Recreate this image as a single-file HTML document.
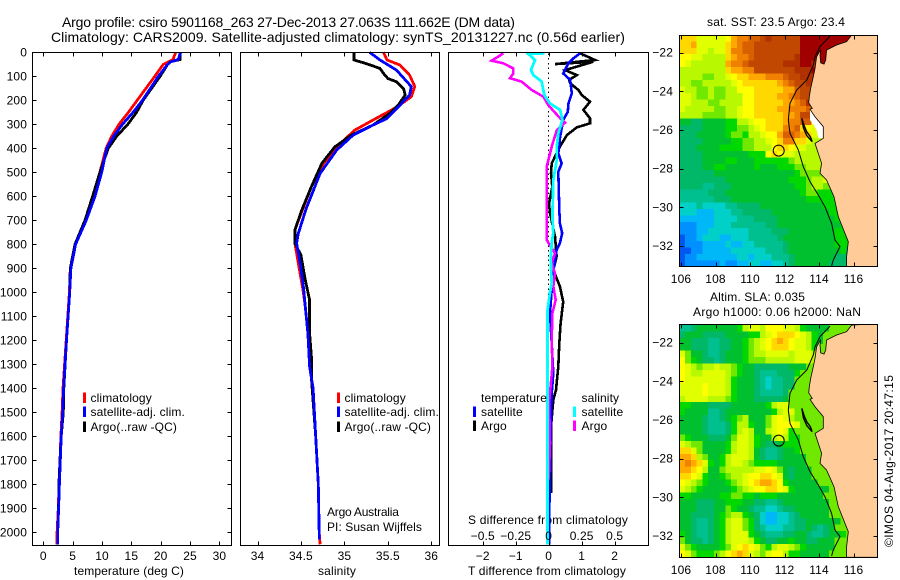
<!DOCTYPE html>
<html>
<head>
<meta charset="utf-8">
<title>Argo profile</title>
<style>
html,body{margin:0;padding:0;background:#fff;}
svg{display:block;}
text{font-family:"Liberation Sans",sans-serif;font-size:12px;fill:#000;letter-spacing:.12px;}
.t14{font-size:14px;}
</style>
</head>
<body>
<svg id="fig" xmlns="http://www.w3.org/2000/svg" width="900" height="580" viewBox="0 0 900 580">
<rect x="0" y="0" width="900" height="580" fill="#fff"/>
<text class="t14" x="62" y="27" textLength="453">Argo profile: csiro 5901168_263 27-Dec-2013 27.063S 111.662E (DM data)</text>
<text class="t14" x="51" y="42" textLength="574">Climatology: CARS2009. Satellite-adjusted climatology: synTS_20131227.nc (0.56d earlier)</text>
<text x="74" y="575" textLength="110">temperature (deg C)</text>
<text x="318" y="575" textLength="38">salinity</text>
<text x="468" y="575" textLength="158">T difference from climatology</text>
<text x="468" y="524" textLength="160">S difference from climatology</text>
<text x="327" y="516" textLength="72">Argo Australia</text>
<text x="327" y="531" textLength="95">PI: Susan Wijffels</text>
<text x="707" y="26" textLength="138">sat. SST: 23.5 Argo: 23.4</text>
<text x="710" y="301" textLength="95">Altim. SLA: 0.035</text>
<text x="693" y="316" textLength="168">Argo h1000: 0.06 h2000: NaN</text>
<text transform="translate(893,547) rotate(-90)" x="0" y="0" textLength="172">©IMOS 04-Aug-2017 20:47:15</text>
</svg>
<script>
// ---------- temperature profile data ----------
const tempDepth = [0,30,40,50,100,200,250,300,350,400,500,600,700,800,900,1000,1200,1400,1500,1600,1700,1800,1900,2000,2050];
const tempClim = [22.55,22.1,21.3,20.45,19.0,16.0,14.5,12.9,11.65,10.7,9.65,8.7,7.2,5.4,4.6,4.45,3.9,3.35,3.2,3.0,2.85,2.7,2.55,2.35,2.3];
const tempSat = [23.35,23.0,21.7,21.2,19.6,16.9,15.3,13.5,12.0,10.8,9.95,8.8,7.3,5.5,4.7,4.5,3.95,3.45,3.3,3.05,2.9,2.75,2.6,2.45,2.45];
const tempArgo = [23.35,23.3,21.6,21.2,19.9,17.0,15.9,14.4,12.5,11.05,9.65,8.4,7.1,5.4,4.6,4.5,3.95,3.5,3.4,3.05,2.85,2.65,2.6,2.45,2.45];
// ---------- salinity profile data ----------
const salClimDepth = [0,32,53,95,143,185,229,282,324,394,463,560,644,740,796,879,983,1060,1171,1310,1400,1600,1800,2000,2050];
const salClim = [35.45,35.49,35.64,35.75,35.81,35.77,35.6,35.33,35.12,34.91,34.76,34.62,34.53,34.43,34.43,34.47,34.52,34.55,34.58,34.6,34.64,34.67,34.7,34.71,34.72];
const salSatDepth = [0,32,74,143,178,220,276,303,345,408,505,651,755,796,879,983,1060,1171,1310,1400,1600,1800,2000,2030];
const salSat = [35.29,35.41,35.6,35.77,35.75,35.64,35.49,35.33,35.1,34.91,34.72,34.56,34.47,34.45,34.49,34.53,34.55,34.58,34.6,34.64,34.67,34.7,34.71,34.71];
const salArgoDepth = [0,32,46,67,88,109,123,151,178,220,255,303,345,394,463,560,657,740,796,845,949,1032,1171,1268,1358,1600,1800,2000];
const salArgo = [35.11,35.11,35.24,35.41,35.45,35.5,35.6,35.68,35.7,35.62,35.52,35.33,35.08,34.89,34.74,34.62,34.51,34.43,34.43,34.5,34.55,34.6,34.6,34.62,34.62,34.67,34.7,34.71];
// ---------- difference panel data ----------
const dTempArgoDepth = [4,32,49,39,74,95,115,129,157,178,206,240,275,296,313,345,393,463,504,560,630,670,768,851,907,976,1039,1129,1212,1309,1407,1448,1559,1837];
const dTempArgo = [.95,1.4,.19,1.35,.5,.85,.62,.65,.9,1.0,1.25,1.05,1.25,1.25,.85,.55,.34,.09,.07,.11,.01,.04,.19,.24,.14,.34,.44,.36,.32,.29,.22,.14,.07,.07];
const dTempSatDepth = [4,25,46,88,115,171,213,248,282,358,421,463,498,657,712,754,795,823,914,990,1087,1212,1337,1420,1545,1643,1990,2050];
const dTempSat = [.95,.75,.6,.44,.65,.7,.6,.58,.44,.34,.29,.39,.29,.32,.34,.41,.34,.24,.14,.09,.04,.09,.14,.09,.07,.05,.01,.01];
const dSalArgoDepth = [4,35,46,67,88,108,122,157,185,220,275,293,324,393,477,685,782,837,879,921,976,1032,1087,1198,1309,1420,1462,1629,1780];
const dSalArgo = [-.343,-.432,-.343,-.268,-.268,-.293,-.205,-.129,-.04,-.003,.086,.124,.061,.023,-.015,-.015,-.015,.048,.023,.048,.035,.053,.028,.023,.028,.01,.003,.01,0];
const dSalSatDepth = [4,7,32,74,95,122,178,213,240,282,338,393,449,532,685,754,795,865,962,1018,1073,1351,1990,2050];
const dSalSat = [-.033,-.154,-.104,-.134,-.116,-.053,-.033,.01,.086,.104,.073,.061,.061,.035,.028,.035,.023,.015,.023,.005,-.008,-.008,-.008,-.008];
// ---------- tick labels ----------
const depthTicks = [0,100,200,300,400,500,600,700,800,900,1000,1100,1200,1300,1400,1500,1600,1700,1800,1900,2000];
const tempTicks = [0,5,10,15,20,25,30];
const salTicks = [34,34.5,35,35.5,36];
const dTempTicks = [-2,-1,0,1,2];
const dSalTicks = [-0.5,-0.25,0,0.25,0.5];
const lonTicks = [106,108,110,112,114,116];
const latTicks = [-22,-24,-26,-28,-30,-32];
// ---------- map data: one letter per 1/3-degree cell, a (coldest/lowest) to s (warmest/highest) ----------
const sstRows = [
"mmmkkkkklnooppqrqqqqqsssssssss",
"mmnkkkkkmnoppqqqqqqqqsssssssss",
"mmmkkjkkmooppqqqqqqqqsssssssss",
"llkkjjjjmnoopqqqqqqqrsssssssss",
"lkjjjjjjnoopqqqqqqrrrssrssssss",
"jjjjjjjjmnnooqqqqqqqrrrsssssss",
"jjjjiijjklmmnnnooopqqrrrpnnnnn",
"jjiijjjjjklmmmmmmnopqqrrponnnn",
"kjjiijiijjlllmmmmmnnpqqrronnnn",
"kkjiijiijjjllmmmmnnopqqponnnnn",
"kkjjjiijjjjllmmmmmnnoprponnnnn",
"kjjjjjiijjkllmmmmnnooopnoqrrrr",
"jjjjiiiijjkllmmmmmnnoqqoonnooo",
"ggffgggghhjjkllmmmnoopplnnnnnn",
"ffffgggghhiijklmmmoopmlkjjhhhh",
"fffggggghiihjjkllnpponmkjhhhhh",
"ffffggggghhiijjklmoommkjjihhhh",
"fffgggghhhhiijjjlmmlkkjjjiihhh",
"ffffgggggggghhhlmlkkjjjjjjihhh",
"ffffgggghhggghhhhhhijjjjjjjiii",
"ffffgghhggggghggghhhiijjjjjihh",
"ffffffgggggggggggggghiiiijjihh",
"ffffffffggggggggggghhhijjkiihh",
"ffffeefffggggggggggghhijjiihgg",
"eeeeefffggggggggggggghiihhhhhh",
"eeeeeefffggggggggggggghhhhhhhh",
"dddeddddeeffffggggggggggghhhhh",
"dddcccdddeefffffgggggggggghhhh",
"ccccccddddeeeffffgggggggggghhh",
"bbbcccdddeeeeeeffggggggggggghh",
"bbbccdddddddeeeefffgggggggghhh",
"abbcdddccdddeeeeefggggggggghhh",
"abbbccccdccddeeeeefgggggggghhh",
"aabbcccccddddddeeefggggggggghf",
"abbcccccccddcdddeeefgggggggfff",
"abbbbbbcbbccddccddefggggggffff"
];
const slaRows = [
"eefggggggghjkkjlllkkjhggggiiii",
"fgggffffgggghhjklmmmlkjhgiiiii",
"ggfffeeffgghijklmnmlkkjhgiiiii",
"ggfffeeffgghijklmmmlkkjhiiiiii",
"kiggfeefggghijjkkkkjkkkjiiiiii",
"lihgffefggghiiijjjjjkkkjiiiiii",
"lkjijjkjjihggffffffgggiiiiiiii",
"lkjjkkkkjihggfeeefffhiiiiiiiii",
"lkkkkkkkjhgggfedeeffiiiiiiiiii",
"kkkklkkkjhgggfedeeffiiiiiiiiii",
"kkkklkkkjhgggfeeeefiiiiiiiiiii",
"jkkkkjjjihgggfffffgiiiiiiiiiii",
"hhgggffffgggggghjkkiiiiiiiiiii",
"hggggeefgggggggghjkkiiiiiiiiii",
"ggggfeefghijgggiklkjiiiiiiiiii",
"ggggfeeefhjjhggiklllkiiiiiiiii",
"ggggfeeefhjkjggjklkhiiiiiiiiii",
"ihgggfffgikkjhggjkjhhiiiiiiiii",
"kjiigggghjkkjhgffghhhiiiiiiiii",
"mmkigggghjkkjgfeefgghiiiiiiiii",
"nnmjigghjkkkjgfeefggggiiiiiiii",
"nonmkhghjkkjihhhhgggggiiiiiiii",
"nnmljggijjjjjkklkigfgggiiiiiii",
"mmlkhgghijjkllmmlkgfgggiiiiiii",
"lkjihggghijklmnnmlhgggggiiiiii",
"kjihggggghijkllmmlkhggggggiiii",
"hhggggghhiihhghhhggggggggiiiii",
"gggfffgghhhggffeefggggggggiiii",
"gggfffggihggfeeddeffggggggiiii",
"ggffffghijjhgfdccddefgggggiiii",
"ggfeefghjkkihfdccddeffggggggii",
"ggfeefghjkkihfedddeeffgfefgiii",
"hgfeefghjkkkhgfeeeffggfeefgghi",
"igffefghjkkkjhgffgghggffgggiii",
"kihgggghiklmlkihjkkjihgggggiii",
"lkihhhijlmnmkjiklljhhgggggiiii"
];
const landLon = [115.89,115.6,115.02,114.44,114.39,114.29,114.1,114.06,114.1,113.86,113.77,113.67,113.52,113.44,113.4,113.61,113.48,113.77,114.25,114.25,113.77,113.96,114.15,114.06,114.44,114.87,115.12,115.7,115.6,115.6,117.6,117.6];
const landLat = [-21.09,-21.43,-21.6,-21.86,-22.38,-22.59,-22.52,-22.12,-21.83,-22.21,-22.81,-23.24,-23.84,-24.28,-24.59,-24.88,-24.93,-25.31,-25.83,-26.43,-26.69,-27.21,-27.72,-28.24,-28.59,-29.45,-30.48,-31.78,-32.55,-33.1,-33.1,-21.0];
const bayLon = [113.48,113.77,114.25,114.25,113.96,113.86,113.67,113.48];
const bayLat = [-24.93,-25.31,-25.83,-26.43,-26.43,-26.0,-25.72,-25.48];
const isoLon = [114.64,114.06,113.77,113.67,113.29,112.71,112.32,112.22,112.32,112.8,113.09,113.48,113.96,114.35,114.73,114.93,115.22,114.83,114.73];
const isoLat = [-21.14,-21.69,-22.21,-22.64,-23.41,-23.93,-24.62,-25.48,-26.17,-27.03,-27.9,-28.67,-29.36,-29.97,-30.83,-31.69,-32.03,-32.72,-33.03];
const islandLon = [113.0,113.1,113.2,113.3,113.5,113.6,113.5,113.3,113.15,113.0];
const islandLat = [-25.4,-25.9,-26.1,-26.3,-26.5,-26.6,-26.35,-26.1,-25.8,-25.4];
const floatLon = 111.662;
const floatLat = -27.063;
const levelColors = ["#0058f0","#0090ff","#00b8f8","#00d0c8","#00c090","#00b868","#00c030","#00d800","#70e800","#b8f800","#e0ff00","#ffff00","#ffd800","#ffa800","#f08000","#d86000","#c04800","#b03000","#a00000"];

// ---------- helpers ----------
const svg = document.getElementById('fig');
const NS = 'http://www.w3.org/2000/svg';
function mk(parent, tag, attrs, name, interactive) {
  const el = document.createElementNS(NS, tag);
  for (const k in attrs) el.setAttribute(k, attrs[k]);
  
  
  parent.appendChild(el);
  return el;
}
function label(str, x, y, anchor, name) {
  const el = mk(svg, 'text', {x: x, y: y, 'text-anchor': anchor}, name, false);
  el.textContent = str;
  return el;
}
function fmt(v) { return String(v).replace('-', '\u2212'); }
function lineSeg(x1, y1, x2, y2, name) {
  mk(svg, 'line', {x1: x1, y1: y1, x2: x2, y2: y2, stroke: '#000', 'stroke-width': 1, 'shape-rendering': 'crispEdges'}, name, false);
}

// ---------- profile axes ----------
const axTop = 52.5, axBottom = 545.5, tickLen = 4;
const yD = d => 52.3 + 0.24 * d;
const xTemp = v => 43.3 + 5.87 * v;
const xSal = v => 257.5 + 86.9 * (v - 34);
const xDT = v => 548.7 + 33 * v;
const xDS = v => 548.7 + 132 * v;

function frame(x0, x1, name) {
  mk(svg, 'rect', {x: x0, y: axTop, width: x1 - x0, height: axBottom - axTop, fill: 'none', stroke: '#000', 'stroke-width': 1, 'shape-rendering': 'crispEdges'}, name, false);
}
function xTicks(ticks, fn, top, bottom, labelY, name, labels) {
  ticks.forEach(t => {
    const x = Math.round(fn(t)) + 0.5;
    if (top) lineSeg(x, axTop, x, axTop + tickLen, name + '-top-tick');
    if (bottom) lineSeg(x, axBottom, x, axBottom - tickLen, name + '-bottom-tick');
    if (labels) label(fmt(t), fn(t), labelY, 'middle', name + '-tick-label');
  });
}
function profile(xs, depths, fn, color, width, name) {
  const pts = xs.map((v, i) => fn(v).toFixed(1) + ',' + yD(depths[i]).toFixed(1)).join(' ');
  mk(svg, 'polyline', {points: pts, fill: 'none', stroke: color, 'stroke-width': width, 'stroke-linejoin': 'miter', 'shape-rendering': 'crispEdges'}, name, false);
}
function legendBar(x, y, color, name) {
  mk(svg, 'rect', {x: x, y: y, width: 3, height: 10.5, fill: color, 'shape-rendering': 'crispEdges'}, name, false);
}

// panel 1: temperature
profile(tempClim, tempDepth, xTemp, '#ff0000', 2.8, 'temperature-climatology-line');
profile(tempArgo, tempDepth, xTemp, '#000000', 2.8, 'temperature-argo-line');
profile(tempSat, tempDepth, xTemp, '#0000ff', 2.8, 'temperature-satellite-line');
frame(32.5, 231.5, 'temperature-panel-frame');
xTicks(tempTicks, xTemp, true, true, 560, 'temperature', true);
depthTicks.forEach(d => {
  const y = Math.round(yD(d)) + 0.5;
  lineSeg(32.5, y, 32.5 + tickLen, y, 'depth-left-tick');
  lineSeg(231.5, y, 231.5 - tickLen, y, 'depth-right-tick');
  label(String(d), 27, yD(d) + 4, 'end', 'depth-tick-label');
});

// panel 2: salinity
profile(salClim, salClimDepth, xSal, '#ff0000', 2.8, 'salinity-climatology-line');
profile(salArgo, salArgoDepth, xSal, '#000000', 2.8, 'salinity-argo-line');
profile(salSat, salSatDepth, xSal, '#0000ff', 2.8, 'salinity-satellite-line');
frame(240.5, 439.5, 'salinity-panel-frame');
xTicks(salTicks, xSal, true, true, 560, 'salinity', true);

// panel 3: differences
for (let d = 4; d < 1200; d += 20) {
  mk(svg, 'rect', {x: 548, y: yD(d), width: 1, height: 1.5, fill: '#000', 'shape-rendering': 'crispEdges'}, 'zero-dotted-line', false);
}
profile(dTempArgo, dTempArgoDepth, xDT, '#000000', 2.6, 'temperature-difference-argo-line');
profile(dTempSat, dTempSatDepth, xDT, '#0000ff', 2.6, 'temperature-difference-satellite-line');
profile(dSalArgo, dSalArgoDepth, xDS, '#ff00ff', 2.6, 'salinity-difference-argo-line');
profile(dSalSat, dSalSatDepth, xDS, '#00ffff', 2.8, 'salinity-difference-satellite-line');
frame(448.5, 648.5, 'difference-panel-frame');
xTicks(dTempTicks, xDT, true, true, 560, 'temperature-difference', true);
xTicks(dSalTicks, xDS, false, false, 540, 'salinity-difference', true);

// legends
function legend(barX, textX, baseY, color, text, name) {
  legendBar(barX, baseY - 9.5, color, name + '-swatch');
  label(text, textX, baseY, 'start', name + '-label');
}
legend(83, 90.5, 402, '#ff0000', 'climatology', 'legend-temperature-climatology');
legend(83, 90.5, 416, '#0000ff', 'satellite-adj. clim.', 'legend-temperature-satellite');
legend(83, 90.5, 431, '#000000', 'Argo(..raw -QC)', 'legend-temperature-argo');
legend(337, 344.5, 402, '#ff0000', 'climatology', 'legend-salinity-climatology');
legend(337, 344.5, 416, '#0000ff', 'satellite-adj. clim.', 'legend-salinity-satellite');
legend(337, 344.5, 431, '#000000', 'Argo(..raw -QC)', 'legend-salinity-argo');
label('temperature', 481, 402, 'start', 'legend-temperature-heading');
label('salinity', 581.5, 402, 'start', 'legend-salinity-heading');
legend(473, 481, 416, '#0000ff', 'satellite', 'legend-t-difference-satellite');
legend(473, 481, 430, '#000000', 'Argo', 'legend-t-difference-argo');
legend(573, 581.5, 416, '#00ffff', 'satellite', 'legend-s-difference-satellite');
legend(573, 581.5, 430, '#ff00ff', 'Argo', 'legend-s-difference-argo');

// ---------- maps ----------
const lonStart = 105.9, latStart = -21.08, cellDeg = 1 / 3;
const mapLeft = 679.5, mapRight = 877.5;
const xLon = v => 681 + 17.25 * (v - 106);

function drawMap(rows, top, bottom, yMinus22, isSST, prefix) {
  const yLat = v => yMinus22 - 19.33 * (v + 22);
  const clipId = prefix + '-clip';
  const defs = mk(svg, 'clipPath', {id: clipId}, prefix + '-clip-region', false);
  mk(defs, 'rect', {x: mapLeft, y: top, width: mapRight - mapLeft, height: bottom - top}, prefix + '-clip-rect', false);
  const g = mk(svg, 'g', {'clip-path': 'url(#' + clipId + ')'}, prefix + '-map', false);
  rows.forEach((row, r) => {
    const filled = row.padEnd(36, row[row.length - 1]);
    for (let c = 0; c < filled.length; c++) {
      const level = filled.charCodeAt(c) - 97;
      const x0 = xLon(lonStart + c * cellDeg);
      const x1 = xLon(lonStart + (c + 1) * cellDeg);
      const y0 = yLat(latStart - r * cellDeg);
      const y1 = yLat(latStart - (r + 1) * cellDeg);
      mk(g, 'rect', {x: x0.toFixed(1), y: y0.toFixed(1), width: (x1 - x0 + 0.4).toFixed(1), height: (y1 - y0 + 0.4).toFixed(1), fill: levelColors[level], 'shape-rendering': 'crispEdges'}, prefix + '-cell', false);
    }
  });
  const path = (lons, lats) => lons.map((v, i) => xLon(v).toFixed(1) + ',' + yLat(lats[i]).toFixed(1)).join(' ');
  if (isSST) {
    mk(g, 'polygon', {points: path(bayLon, bayLat), fill: '#fff'}, prefix + '-no-data-bay', false);
  }
  mk(g, 'polygon', {points: path(landLon, landLat), fill: '#ffcc99', stroke: '#000', 'stroke-width': 0.8}, prefix + '-land', false);
  mk(g, 'polyline', {points: path(isoLon, isoLat), fill: 'none', stroke: '#000', 'stroke-width': 1}, prefix + '-isobath', false);
  mk(g, 'polyline', {points: path(islandLon, islandLat), fill: 'none', stroke: '#000', 'stroke-width': 1.4}, prefix + '-shark-bay-islands', false);
  mk(g, 'circle', {cx: xLon(floatLon).toFixed(1), cy: yLat(floatLat).toFixed(1), r: 5.5, fill: 'none', stroke: '#000', 'stroke-width': 1}, prefix + '-float-position', false);
  mk(svg, 'rect', {x: mapLeft, y: top, width: mapRight - mapLeft, height: bottom - top, fill: 'none', stroke: '#000', 'stroke-width': 1, 'shape-rendering': 'crispEdges'}, prefix + '-frame', false);
  lonTicks.forEach(t => {
    const x = Math.round(xLon(t)) + 0.5;
    lineSeg(x, top, x, top + tickLen, prefix + '-lon-top-tick');
    lineSeg(x, bottom, x, bottom - tickLen, prefix + '-lon-bottom-tick');
    label(String(t), xLon(t), bottom + 16.5, 'middle', prefix + '-lon-tick-label');
  });
  latTicks.forEach(t => {
    const y = Math.round(yLat(t)) + 0.5;
    lineSeg(mapLeft, y, mapLeft + tickLen, y, prefix + '-lat-left-tick');
    lineSeg(mapRight, y, mapRight - tickLen, y, prefix + '-lat-right-tick');
    label(fmt(t), 673, yLat(t) + 4, 'end', prefix + '-lat-tick-label');
  });
}
drawMap(sstRows, 35.5, 266.5, 52.7, true, 'sst');
drawMap(slaRows, 324.5, 557.5, 342.7, false, 'sla');
</script>
</body>
</html>
